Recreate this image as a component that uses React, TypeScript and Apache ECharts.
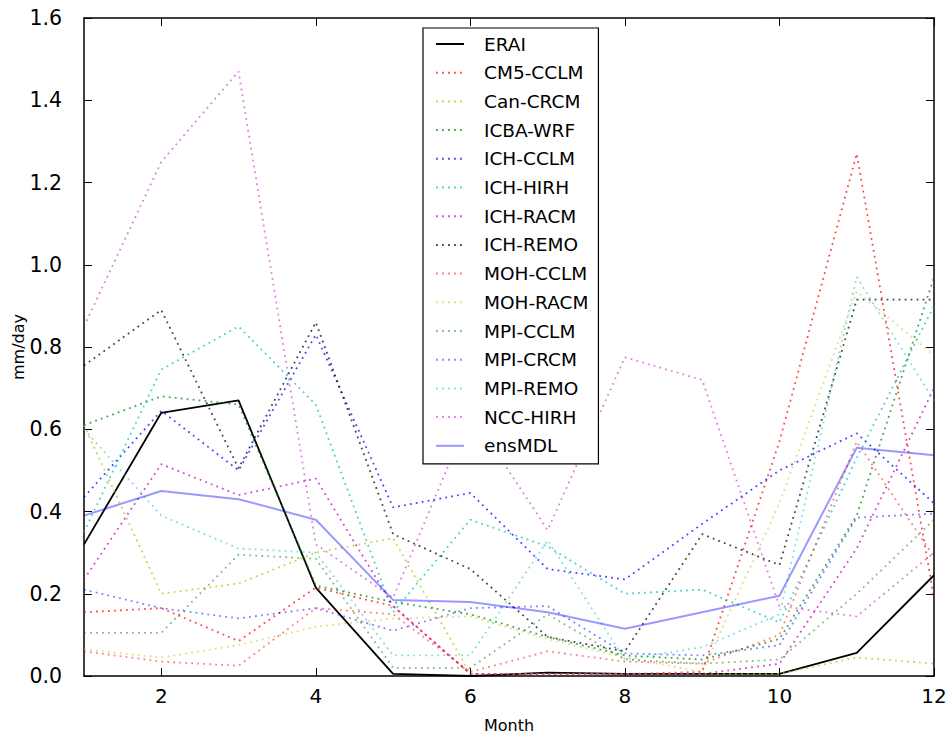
import React, { useEffect, useRef } from "react";
import * as echarts from "echarts";

const months = [1, 2, 3, 4, 5, 6, 7, 8, 9, 10, 11, 12];
const xTickValues = [2, 4, 6, 8, 10, 12];

const erai = [0.32, 0.64, 0.67, 0.215, 0.005, 0.0, 0.008, 0.005, 0.005, 0.005, 0.056, 0.245];
const cm5Cclm = [0.155, 0.165, 0.085, 0.215, 0.17, 0.005, 0.005, 0.005, 0.01, 0.57, 1.27, 0.19];
const canCrcm = [0.61, 0.2, 0.225, 0.3, 0.335, 0.005, 0.005, 0.005, 0.005, 0.005, 0.045, 0.03];
const icbaWrf = [0.61, 0.68, 0.66, 0.22, 0.18, 0.15, 0.095, 0.05, 0.04, 0.09, 0.39, 0.97];
const ichCclm = [0.435, 0.645, 0.5, 0.83, 0.41, 0.445, 0.26, 0.235, 0.37, 0.5, 0.59, 0.42];
const ichHirh = [0.35, 0.745, 0.85, 0.66, 0.155, 0.38, 0.315, 0.2, 0.21, 0.13, 0.53, 0.9];
const ichRacm = [0.235, 0.515, 0.44, 0.48, 0.17, 0.005, 0.005, 0.005, 0.005, 0.03, 0.31, 0.7];
const ichRemo = [0.755, 0.89, 0.505, 0.86, 0.345, 0.26, 0.095, 0.06, 0.345, 0.27, 0.915, 0.915];
const mohCclm = [0.06, 0.035, 0.025, 0.165, 0.15, 0.01, 0.06, 0.035, 0.03, 0.1, 0.57, 0.29];
const mohRacm = [0.065, 0.045, 0.075, 0.12, 0.14, 0.145, 0.09, 0.045, 0.01, 0.42, 0.935, 0.78];
const mpiCclm = [0.105, 0.105, 0.295, 0.285, 0.02, 0.02, 0.15, 0.04, 0.03, 0.04, 0.2, 0.38];
const mpiCrcm = [0.21, 0.165, 0.14, 0.165, 0.11, 0.165, 0.17, 0.055, 0.05, 0.075, 0.385, 0.395];
const mpiRemo = [0.6, 0.39, 0.31, 0.3, 0.05, 0.05, 0.33, 0.04, 0.07, 0.15, 0.97, 0.67];
const nccHirh = [0.85, 1.25, 1.47, 0.32, 0.19, 0.64, 0.355, 0.775, 0.72, 0.17, 0.145, 0.3];
const ensMdl = [0.39, 0.45, 0.43, 0.38, 0.185, 0.18, 0.155, 0.115, 0.155, 0.195, 0.555, 0.537];

const seriesNames = [
  "ERAI", "CM5-CCLM", "Can-CRCM", "ICBA-WRF", "ICH-CCLM", "ICH-HIRH", "ICH-RACM",
  "ICH-REMO", "MOH-CCLM", "MOH-RACM", "MPI-CCLM", "MPI-CRCM", "MPI-REMO", "NCC-HIRH", "ensMDL",
];
const seriesValues = [
  erai, cm5Cclm, canCrcm, icbaWrf, ichCclm, ichHirh, ichRacm,
  ichRemo, mohCclm, mohRacm, mpiCclm, mpiCrcm, mpiRemo, nccHirh, ensMdl,
];

const FONT = "DejaVu Sans";

function lineStyleFor(i: number) {
  if (i === 0) return { color: "#000000", width: 1.8, type: "solid" as const, opacity: 1 };
  if (i === 14) return { color: "rgba(0,0,255,0.4)", width: 2, type: "solid" as const, opacity: 1 };
  const palette = ["#ff0000", "#bfbf00", "#008000", "#0000ff", "#00bfbf", "#bf00bf", "#000000"];
  const k = (i - 1) % 7;
  const second = i >= 8;
  return {
    color: palette[k],
    width: 1.8,
    type: [1.8, 4.2] as any,
    cap: "butt" as const,
    opacity: second ? 0.5 : 0.72,
  };
}

export default function App() {
  const ref = useRef<HTMLDivElement>(null);
  useEffect(() => {
    if (!ref.current) return;
    const chart = echarts.init(ref.current, undefined, { renderer: "svg" });
    const series = seriesNames.map((name, i) => ({
      name,
      type: "line",
      data: months.map((m, j) => [m, seriesValues[i][j]]),
      symbol: "none",
      showSymbol: false,
      lineStyle: lineStyleFor(i),
      itemStyle: { color: lineStyleFor(i).color, opacity: lineStyleFor(i).opacity },
      z: 2,
    }));
    const tickCommon = { show: true, inside: true, length: 8, lineStyle: { color: "#000", width: 1 } };
    chart.setOption({
      animation: false,
      backgroundColor: "#ffffff",
      textStyle: { fontFamily: FONT },
      grid: {
        left: 84,
        right: 13,
        top: 18,
        bottom: 62,
        containLabel: false,
        outerBoundsMode: "none",
      },
      legend: {
        orient: "vertical",
        left: 423,
        top: 28,
        padding: [6, 10, 8, 12],
        itemWidth: 28,
        itemHeight: 20,
        itemGap: 8.7,
        itemTextGap: 5,
        itemStyle: { opacity: 0 },
        borderColor: "#000",
        borderWidth: 1.2,
        backgroundColor: "#fff",
        textStyle: {
          fontSize: 18.5,
          color: "#000",
          fontFamily: FONT,
          lineHeight: 20,
          padding: [0, 0, 0, 15],
        },
        data: seriesNames,
      },
      xAxis: [
        {
          type: "value",
          min: 1,
          max: 12,
          name: "Month",
          nameLocation: "middle",
          nameGap: 41,
          nameTextStyle: { fontSize: 16, color: "#000", fontFamily: FONT },
          axisLine: { show: true, onZero: false, lineStyle: { color: "#000", width: 1.5 } },
          axisTick: { ...tickCommon, customValues: xTickValues },
          axisLabel: { customValues: xTickValues, fontSize: 20, color: "#000", margin: 10, fontFamily: FONT },
          splitLine: { show: false },
        },
        {
          type: "value",
          min: 1,
          max: 12,
          position: "top",
          axisLine: { show: true, onZero: false, lineStyle: { color: "#000", width: 1.5 } },
          axisTick: { ...tickCommon, customValues: xTickValues },
          axisLabel: { show: false },
          splitLine: { show: false },
        },
      ],
      yAxis: [
        {
          type: "value",
          min: 0,
          max: 1.6,
          interval: 0.2,
          name: "mm/day",
          nameLocation: "middle",
          nameGap: 58,
          nameMoveOverlap: false,
          nameRotate: 90,
          nameTextStyle: { fontSize: 16, color: "#000", fontFamily: FONT },
          axisLine: { show: true, onZero: false, lineStyle: { color: "#000", width: 1.5 } },
          axisTick: tickCommon,
          axisLabel: {
            fontSize: 20.5,
            color: "#000",
            margin: 22,
            fontFamily: FONT,
            formatter: (v: number) => v.toFixed(1),
          },
          splitLine: { show: false },
        },
        {
          type: "value",
          min: 0,
          max: 1.6,
          interval: 0.2,
          position: "right",
          axisLine: { show: true, onZero: false, lineStyle: { color: "#000", width: 1.5 } },
          axisTick: tickCommon,
          axisLabel: { show: false },
          splitLine: { show: false },
        },
      ],
      series,
    });
    return () => chart.dispose();
  }, []);
  return (
    <div
      ref={ref}
      style={{ position: "fixed", left: 0, top: 0, width: 947, height: 738, background: "#fff" }}
    />
  );
}
